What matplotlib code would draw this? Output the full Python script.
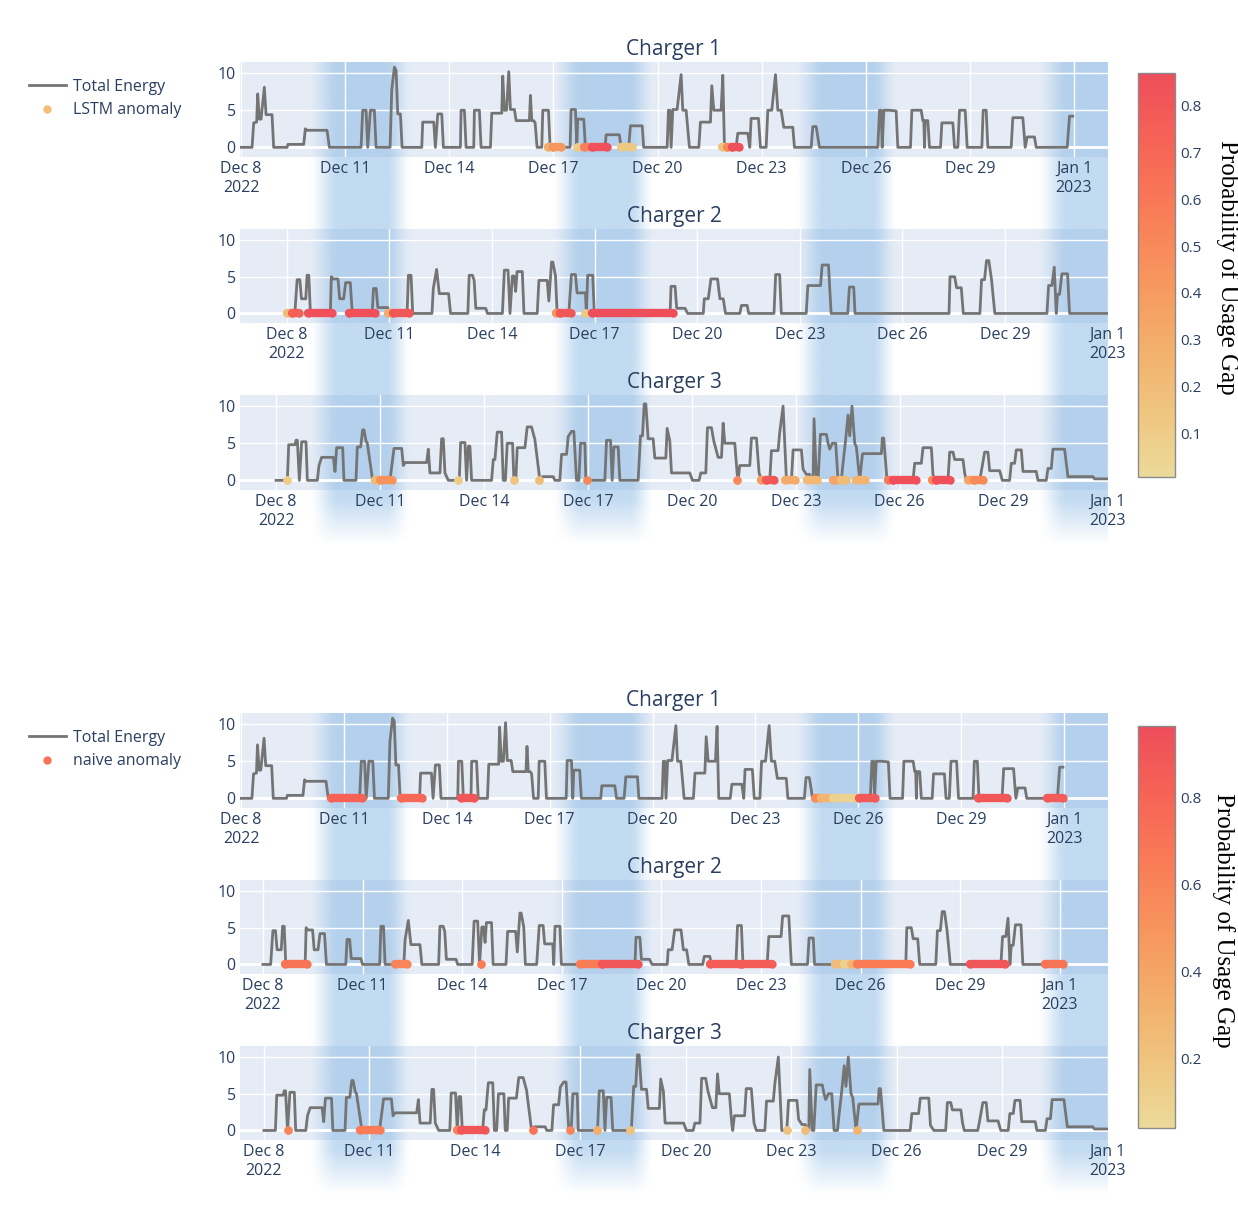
import numpy as np
import pandas as pd
import matplotlib
matplotlib.use('Agg')
import matplotlib.pyplot as plt
import matplotlib.cm as cm
from matplotlib.colors import LinearSegmentedColormap, Normalize
from matplotlib.lines import Line2D
from matplotlib.patches import Rectangle

W, H = 1238, 1207
START = pd.Timestamp('2022-12-08')
TXT = '#2a3f5f'
plt.rcParams['font.family'] = ['Open Sans', 'DejaVu Sans']

# energy per charger, time in days after 2022-12-08 00:00
c1_days = [0.0, 0.317, 0.365, 0.45, 0.48, 0.53, 0.576, 0.672, 0.72, 0.893, 0.94, 1.326, 1.35, 1.806, 1.853,
           1.9, 2.478, 2.545, 3.458, 3.506, 3.602, 3.65, 3.727, 3.842, 3.89, 4.294, 4.342, 4.419, 4.467,
           4.515, 4.592, 4.64, 5.207, 5.235, 5.552, 5.6, 5.668, 5.783, 5.831, 6.32, 6.34, 6.436, 6.484,
           6.705, 6.724, 6.868, 6.916, 7.186, 7.224, 7.512, 7.54, 7.589, 7.65, 7.714, 7.762, 7.877, 7.925,
           8.309, 8.338, 8.377, 8.434, 8.473, 8.53, 8.665, 8.694, 8.857, 8.905, 9.481, 9.51, 9.635, 9.674,
           9.702, 9.875, 9.923, 10.49, 10.52, 10.9, 10.95, 11.17, 11.22, 11.56, 11.6, 12.277, 12.315,
           12.354, 12.392, 12.44, 12.565, 12.68, 12.728, 12.824, 12.92, 13.19, 13.237, 13.525, 13.564,
           13.622, 13.833, 13.881, 13.929, 14.265, 14.313, 14.602, 14.659, 14.697, 14.909, 14.966, 15.13,
           15.178, 15.293, 15.399, 15.466, 15.562, 15.639, 15.898, 15.946, 16.427, 16.475, 16.571, 16.667,
           18.348, 18.396, 18.444, 18.473, 18.521, 18.684, 18.876, 18.924, 19.289, 19.328, 19.597, 19.645,
           19.674, 19.693, 19.712, 19.789, 19.837, 20.154, 20.193, 20.51, 20.557, 20.653, 20.701, 20.865,
           20.922, 21.345, 21.383, 21.47, 21.518, 22.19, 22.238, 22.526, 22.594, 22.651, 22.862, 22.911,
           23.804, 23.871, 23.967]
c1_kwh = [0, 0, 3.3, 3.4, 7.2, 3.8, 3.8, 8.1, 4.4, 4.4, 0, 0, 0.4, 0.4, 2.5,
          2.3, 2.3, 0, 0, 5.0, 5.0, 0, 5.0, 5.0, 0, 0, 7.7, 10.8, 10.4,
          4.5, 4.5, 0, 0, 3.4, 3.4, 0, 4.5, 4.5, 0, 0, 5.0, 5.0, 0,
          0, 5.0, 5.0, 0, 0, 4.6, 4.6, 9.6, 5.0, 5.0, 10.2, 5.1, 5.1, 3.6,
          3.6, 7.0, 3.6, 3.6, 3.3, 0, 0, 5.0, 5.0, 0, 0, 5.1, 5.1, 0,
          3.8, 3.8, 0, 0, 1.7, 1.7, 0, 0, 2.9, 2.9, 0, 0, 5.0,
          5.0, 0, 5.1, 5.1, 9.8, 5.0, 5.0, 0, 0, 3.4, 3.4, 8.3,
          5.0, 5.0, 9.7, 0, 0, 1.9, 1.9, 0, 3.9, 3.9, 0, 0,
          5.0, 5.0, 9.8, 5.0, 5.0, 2.7, 2.7, 0, 0, 2.8, 2.8, 0,
          0, 5.0, 5.0, 0, 5.0, 5.0, 4.9, 0, 0, 5.0, 5.0, 3.6,
          3.6, 0, 3.6, 3.6, 0, 0, 3.3, 3.3, 0, 0, 5.0, 5.0,
          0, 0, 5.0, 5.0, 0, 0, 4.0, 4.0, 0, 1.4, 1.4, 0,
          0, 4.2, 4.2]

c2_days = [0.0, 0.233, 0.301, 0.379, 0.427, 0.553, 0.592, 0.641, 0.689, 1.272, 1.301, 1.35, 1.495, 1.544,
           1.66, 1.719, 1.855, 1.913, 2.495, 2.534, 2.612, 2.66, 2.952, 3.0, 3.515, 3.554, 3.631, 3.68,
           4.243, 4.282, 4.379, 4.457, 4.729, 4.787, 5.292, 5.331, 5.428, 5.476, 5.525, 5.816, 5.865,
           6.302, 6.36, 6.467, 6.525, 6.593, 6.641, 6.69, 6.73, 6.884, 6.933, 7.321, 7.37, 7.612, 7.661,
           7.739, 7.777, 7.855, 7.904, 8.244, 8.321, 8.438, 8.486, 8.729, 8.758, 8.797, 8.943, 8.991,
           11.205, 11.234, 11.351, 11.399, 11.642, 11.72, 12.176, 12.205, 12.322, 12.4, 12.593, 12.662,
           12.759, 12.827, 13.244, 13.293, 13.458, 13.506, 14.244, 14.293, 14.409, 14.458, 15.186, 15.234,
           15.604, 15.652, 15.837, 15.914, 16.4, 16.448, 16.574, 16.613, 19.361, 19.39, 19.526, 19.584,
           19.72, 19.779, 20.264, 20.313, 20.4, 20.458, 20.526, 20.604, 20.701, 22.225, 22.274, 22.371,
           22.439, 22.497, 22.536, 22.594, 22.662, 22.828, 22.886, 24.0]
c2_kwh = [0, 0, 4.6, 4.6, 2.0, 2.0, 5.2, 5.2, 0, 0, 5.0, 4.7, 4.7, 2.0,
          2.0, 4.2, 4.2, 0, 0, 3.4, 3.4, 0.8, 0.8, 0, 0, 5.2, 5.2, 0,
          0, 3.4, 6.0, 2.7, 2.7, 0, 0, 5.2, 5.2, 4.5, 0.7, 0.7, 0,
          0, 5.9, 5.9, 0, 5.1, 5.1, 3.0, 5.7, 5.7, 0, 0, 4.5, 4.5, 1.7,
          7.0, 7.0, 5.1, 0, 0, 5.3, 5.3, 2.8, 2.8, 0, 5.2, 5.2, 0,
          0, 3.7, 3.7, 0.7, 0.7, 0, 0, 2.0, 2.0, 4.7, 4.7, 2.0,
          2.0, 0, 0, 1.1, 1.1, 0, 0, 5.3, 5.3, 0, 0, 3.8,
          3.8, 6.6, 6.6, 0, 0, 3.6, 3.6, 0, 0, 5.0, 5.0, 3.5,
          3.5, 0, 0, 4.6, 4.6, 7.2, 7.2, 4.6, 0, 0, 3.8, 3.8,
          6.3, 0, 2.6, 2.6, 5.4, 5.4, 0, 0]

c3_days = [0.0, 0.327, 0.365, 0.548, 0.577, 0.615, 0.673, 0.74, 0.865, 0.904, 1.192, 1.24, 1.317, 1.654,
           1.702, 1.75, 1.923, 1.961, 2.307, 2.346, 2.442, 2.5, 2.538, 2.596, 2.634, 2.788, 3.288, 3.336,
           3.404, 3.625, 3.673, 3.721, 4.346, 4.394, 4.442, 4.73, 4.779, 4.827, 4.875, 4.971, 5.288, 5.327,
           5.451, 5.5, 5.548, 5.596, 5.644, 6.221, 6.269, 6.317, 6.384, 6.509, 6.557, 6.62, 6.672, 6.826,
           6.865, 6.92, 6.961, 7.182, 7.249, 7.374, 7.47, 7.615, 7.692, 7.999, 8.047, 8.191, 8.24, 8.384,
           8.432, 8.528, 8.595, 8.672, 8.74, 8.788, 8.913, 8.941, 9.489, 9.538, 9.653, 9.701, 9.749, 9.874,
           9.922, 10.45, 10.518, 10.576, 10.624, 10.672, 10.739, 10.883, 10.932, 11.249, 11.287, 11.364,
           11.412, 11.941, 12.018, 12.21, 12.258, 12.403, 12.451, 12.566, 12.633, 12.758, 12.855, 12.903,
           12.951, 13.239, 13.306, 13.335, 13.383, 13.672, 13.72, 13.864, 13.941, 14.008, 14.249, 14.297,
           14.489, 14.537, 14.633, 14.681, 14.73, 14.874, 14.922, 15.162, 15.21, 15.306, 15.402, 15.451,
           15.499, 15.527, 15.595, 15.643, 15.71, 15.883, 15.931, 15.979, 16.056, 16.152, 16.219, 16.316,
           16.345, 16.441, 16.508, 16.556, 16.623, 16.7, 16.748, 16.845, 16.922, 16.941, 17.47, 17.498,
           17.537, 17.633, 18.383, 18.431, 18.623, 18.671, 18.912, 18.96, 19.056, 19.392, 19.441, 19.537,
           19.585, 19.825, 19.873, 19.921, 20.306, 20.354, 20.45, 20.546, 20.594, 20.883, 20.96, 21.171,
           21.219, 21.315, 21.363, 21.508, 21.556, 21.94, 21.988, 22.229, 22.277, 22.373, 22.421, 22.757,
           22.853, 23.575, 23.623, 24.0]
c3_kwh = [0, 0, 4.8, 4.8, 5.4, 5.4, 0, 5.2, 5.2, 0, 0, 2.0, 3.1, 3.1,
          1.2, 4.4, 4.4, 0, 0, 4.5, 4.5, 6.8, 6.8, 5.3, 5.0, 0, 0, 1.8,
          4.3, 4.3, 2.0, 2.4, 2.4, 4.2, 1.0, 1.0, 5.6, 5.6, 1.0, 0, 0, 5.1,
          5.1, 0, 4.6, 4.6, 0, 0, 2.8, 2.8, 6.5, 6.5, 0, 0, 5.0, 5.0,
          0, 0, 4.4, 4.4, 7.2, 7.2, 5.5, 0, 0.5, 0.5, 0, 0, 3.5, 3.5,
          5.9, 6.6, 6.6, 0, 0, 5.0, 5.0, 0, 0, 5.4, 5.4, 0, 4.5, 4.5,
          0, 0, 6.0, 6.0, 10.3, 10.3, 5.6, 5.6, 3.0, 3.0, 7.0, 5.3,
          1.0, 1.0, 0, 0, 1.0, 1.0, 7.1, 7.1, 5.3, 3.1, 3.1, 7.7,
          5.0, 5.0, 1.0, 0, 2.0, 2.0, 5.7, 5.7, 1.0, 0, 0, 4.0,
          4.0, 6.5, 10.0, 5.0, 0, 0, 4.1, 4.1, 1.5, 0.8, 0.8, 0,
          0, 8.3, 0, 0, 6.2, 6.2, 5.0, 4.2, 5.0, 5.0, 0, 0,
          1.5, 5.6, 8.8, 6.0, 10.0, 5.0, 4.5, 0, 3.5, 3.6, 3.6, 5.7,
          5.7, 0, 0, 2.3, 2.3, 4.4, 4.4, 0.7, 0, 0, 3.8, 3.8,
          2.8, 2.8, 1.0, 0, 0, 1.2, 3.8, 3.8, 1.3, 1.3, 0, 0,
          2.3, 2.3, 4.1, 4.1, 1.2, 1.2, 0, 0, 1.6, 1.6, 4.2, 4.2,
          0.5, 0.5, 0.2, 0.2]

# anomaly runs: (start day, end day, probability of usage gap)
lstm_c1 = [(8.84, 9.0, 0.3), (9.0, 9.22, 0.42), (9.68, 9.68, 0.1), (9.87, 10.1, 0.55),
           (10.1, 10.55, 0.85), (10.95, 11.26, 0.12), (13.85, 14.0, 0.15), (14.0, 14.15, 0.5),
           (14.15, 14.36, 0.85)]
lstm_c2 = [(0.0, 0.15, 0.2), (0.15, 0.36, 0.75), (0.62, 1.33, 0.85), (1.82, 2.59, 0.85),
           (2.95, 3.1, 0.3), (3.1, 3.58, 0.8), (7.86, 8.0, 0.45), (8.0, 8.32, 0.8),
           (8.71, 8.71, 0.12), (8.92, 11.3, 0.87)]
lstm_c3 = [(0.33, 0.33, 0.1), (2.86, 3.0, 0.2), (3.0, 3.34, 0.45), (5.26, 5.26, 0.1),
           (6.87, 6.87, 0.15), (7.59, 7.59, 0.2), (8.96, 8.96, 0.5), (13.29, 13.29, 0.5),
           (14.01, 14.15, 0.4), (14.15, 14.36, 0.8), (14.68, 14.97, 0.3), (15.31, 15.6, 0.22),
           (16.08, 16.2, 0.35), (16.3, 16.46, 0.2), (16.75, 16.99, 0.25), (17.66, 17.8, 0.6),
           (17.8, 18.48, 0.85), (18.94, 19.05, 0.5), (19.05, 19.44, 0.85), (19.97, 20.15, 0.35),
           (20.15, 20.39, 0.5)]
naive_c1 = [(2.62, 3.54, 0.82), (4.66, 5.29, 0.78), (6.41, 6.8, 0.9), (16.75, 16.9, 0.55),
            (16.9, 17.25, 0.3), (17.25, 17.95, 0.1), (18.01, 18.5, 0.88), (21.5, 22.33, 0.9),
            (23.5, 23.98, 0.85)]
naive_c2 = [(0.66, 1.32, 0.7), (3.98, 4.33, 0.6), (6.56, 6.56, 0.65), (9.55, 10.2, 0.65),
            (10.2, 11.3, 0.9), (13.46, 14.37, 0.85), (14.42, 15.32, 0.85), (17.23, 17.5, 0.25),
            (17.5, 17.7, 0.1), (17.7, 17.88, 0.3), (17.88, 19.49, 0.65), (21.3, 22.35, 0.9),
            (23.55, 24.1, 0.7)]
naive_c3 = [(0.68, 0.68, 0.6), (2.73, 3.3, 0.65), (5.49, 5.6, 0.6), (5.6, 6.28, 0.9),
            (7.65, 7.65, 0.7), (8.7, 8.7, 0.6), (9.47, 9.47, 0.35), (10.41, 10.41, 0.2),
            (14.87, 14.87, 0.2), (15.38, 15.38, 0.25), (16.86, 16.86, 0.3)]

tick_days = [0, 3, 6, 9, 12, 15, 18, 21, 24]
tick_labels = ['Dec 8\n2022', 'Dec 11', 'Dec 14', 'Dec 17', 'Dec 20', 'Dec 23', 'Dec 26',
               'Dec 29', 'Jan 1\n2023']
weekend_days = [2, 9, 16, 23]

oryel = ['#ecda9a', '#efc47e', '#f3ad6a', '#f7945d', '#f97b57', '#f66356', '#ee4d5a']
cmap = LinearSegmentedColormap.from_list('oryel', oryel)


def to_time(d):
    return START + pd.to_timedelta(np.asarray(d, dtype=float), unit='D')


fig = plt.figure(figsize=(W / 100, H / 100), dpi=100)
fig.patch.set_facecolor('white')

bg = fig.add_axes([0, 0, 1, 1], zorder=0)
bg.set_xlim(0, W)
bg.set_ylim(H, 0)
bg.axis('off')

series = [(c1_days, c1_kwh), (c2_days, c2_kwh), (c3_days, c3_kwh)]
blocks = [
    dict(rows=[(62, 157), (229, 323), (395, 490)],
         xlims=[(-0.03, 24.98), (-1.37, 24.01), (-1.04, 24.01)],
         runs=[lstm_c1, lstm_c2, lstm_c3], norm=Normalize(0.006, 0.87),
         cbar=(73, 477), cticks=[0.1, 0.2, 0.3, 0.4, 0.5, 0.6, 0.7, 0.8],
         name='LSTM anomaly', mcolor=cmap(0.2), legend_top=79, clabel=(1227, 267)),
    dict(rows=[(713, 808), (880, 974), (1046, 1140)],
         xlims=[(-0.03, 25.28), (-0.69, 25.45), (-0.68, 24.01)],
         runs=[naive_c1, naive_c2, naive_c3], norm=Normalize(0.04, 0.965),
         cbar=(726, 1128), cticks=[0.2, 0.4, 0.6, 0.8],
         name='naive anomaly', mcolor=cmap(0.72), legend_top=730, clabel=(1223, 920)),
]

X0, X1 = 240, 1108

for blk in blocks:
    rows = blk['rows']
    norm = blk['norm']

    # weekend shading drawn behind the plots
    top_px, bot_px = rows[0][0], rows[2][1] + 55
    bax = fig.add_axes([X0 / W, 1 - bot_px / H, (X1 - X0) / W, (bot_px - top_px) / H], zorder=0.5)
    bax.set_xlim(0, 25)
    bax.set_ylim(0, 1)
    bax.axis('off')
    xs = np.linspace(0, 25, 1200)
    inten = np.zeros_like(xs)
    for s in weekend_days:
        up = np.clip((xs - (s - 0.05)) / 0.9, 0, 1)
        down = np.clip((s + 2.95 - xs) / 0.75, 0, 1)
        inten = np.maximum(inten, np.minimum(up, down))
    inten = inten * inten * (3 - 2 * inten)
    ys = np.linspace(top_px, bot_px, 300)
    vfade = np.clip((bot_px - ys) / 45, 0, 1)
    img = np.zeros((300, 1200, 4))
    img[..., 0] = 120 / 255
    img[..., 1] = 175 / 255
    img[..., 2] = 225 / 255
    img[..., 3] = 0.45 * vfade[:, None] * inten[None, :]
    bax.imshow(img, extent=[0, 25, 0, 1], aspect='auto', origin='upper', interpolation='bilinear')

    for i, ((t, b), xl, runs) in enumerate(zip(rows, blk['xlims'], blk['runs'])):
        bg.add_patch(Rectangle((X0, t), X1 - X0, b - t, facecolor='#E5ECF6', edgecolor='none'))
        ax = fig.add_axes([X0 / W, 1 - b / H, (X1 - X0) / W, (b - t) / H], zorder=1)
        ax.set_facecolor('none')
        days, kwh = series[i]
        ax.plot(to_time(days), kwh, color='#747474', lw=2.0, zorder=2, solid_joinstyle='round')
        for s, e, p in runs:
            ax.plot(to_time([s, e]), [0, 0], color=cmap(norm(p)), lw=6, solid_capstyle='round',
                    marker='o', ms=6, mew=0, zorder=3)
        ax.axhline(0, color='white', lw=2, zorder=1)
        ax.set_ylim(-1.3, 11.5)
        ax.set_yticks([0, 5, 10])
        ax.set_xlim(to_time(xl)[0], to_time(xl)[1])
        ax.set_xticks(to_time(tick_days))
        ax.set_xticklabels(tick_labels)
        ax.grid(color='white', lw=1)
        ax.set_axisbelow(True)
        for sp in ax.spines.values():
            sp.set_visible(False)
        ax.tick_params(axis='x', length=0, labelsize=11.5, labelcolor=TXT, pad=3)
        ax.tick_params(axis='y', length=0, labelsize=11.5, labelcolor=TXT, pad=3)
        ax.set_title('Charger %d' % (i + 1), fontsize=15, color=TXT, pad=5)

    # colorbar
    ct, cbm = blk['cbar']
    cax = fig.add_axes([1138 / W, 1 - cbm / H, 37 / W, (cbm - ct) / H])
    cb = fig.colorbar(cm.ScalarMappable(norm=norm, cmap=cmap), cax=cax)
    cb.set_ticks(blk['cticks'])
    cb.ax.tick_params(length=0, labelsize=11, labelcolor=TXT, pad=4)
    cb.outline.set_edgecolor('#8a8a8a')
    cb.outline.set_linewidth(1)
    lx, ly = blk['clabel']
    fig.text(lx / W, 1 - ly / H, 'Probability of Usage Gap', rotation=-90, ha='center',
             va='center', family='Liberation Serif', fontsize=18, color='black')

    handles = [Line2D([], [], color='#747474', lw=2),
               Line2D([], [], ls='none', marker='o', ms=6, mew=0, color=blk['mcolor'])]
    fig.legend(handles, ['Total Energy', blk['name']], loc='upper left',
               bbox_to_anchor=(29 / W, 1 - blk['legend_top'] / H), frameon=False,
               borderpad=0, borderaxespad=0, handlelength=2.3, handletextpad=0.45,
               labelspacing=0.45, prop={'size': 11.5}, labelcolor=TXT)

fig.savefig('out.png', dpi=100)
